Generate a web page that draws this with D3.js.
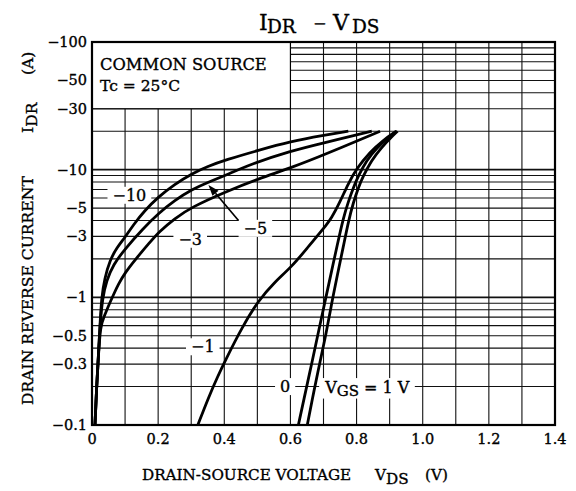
<!DOCTYPE html>
<html><head><meta charset="utf-8">
<script src="https://cdn.jsdelivr.net/npm/d3@7"></script>
<style>
body{margin:0;background:#fff}
svg{display:block}
text{font-family:"DejaVu Serif",serif;fill:#000;stroke:#000;stroke-width:0.35px}
</style>
</head><body>
<svg id="c" width="576" height="491"></svg>
<script>
// ---- data (VDS in V, |IDR| in A; the chart plots negative drain current) ----
const xTicks = [0, 0.2, 0.4, 0.6, 0.8, 1.0, 1.2, 1.4];
const xTickLabels = ["0", "0.2", "0.4", "0.6", "0.8", "1.0", "1.2", "1.4"];
const yTicks = [100, 50, 30, 10, 5, 3, 1, 0.5, 0.3, 0.1];
const yTickLabels = ["−100", "−50", "−30", "−10", "−5", "−3", "−1", "−0.5", "−0.3", "−0.1"];

const vgsM10 = [[0.009,0.1],[0.014,0.2],[0.019,0.33],[0.024,0.6],[0.029,1.0],[0.038,1.4],[0.054,1.95],[0.075,2.45],[0.1,2.95],[0.125,3.7],[0.16,4.8],[0.2,6.1],[0.25,7.7],[0.302,9.3],[0.35,10.6],[0.403,11.9],[0.504,14.2],[0.6,16.6],[0.7,18.6],[0.775,20]];
const vgsM5  = [[0.009,0.1],[0.014,0.2],[0.019,0.33],[0.024,0.6],[0.032,1.0],[0.044,1.35],[0.064,1.8],[0.1,2.4],[0.155,3.47],[0.202,4.57],[0.25,5.75],[0.302,7.0],[0.352,8.0],[0.403,9.0],[0.478,11.0],[0.6,14],[0.7,16.2],[0.846,20]];
const vgsM3  = [[0.009,0.1],[0.014,0.2],[0.019,0.33],[0.025,0.6],[0.038,0.72],[0.05,0.86],[0.065,1.05],[0.08,1.27],[0.1,1.56],[0.131,1.98],[0.175,2.7],[0.202,3.25],[0.25,4.15],[0.302,5.1],[0.403,6.7],[0.504,8.5],[0.6,10.3],[0.7,13.0],[0.871,20]];
const vgsM1  = [[0.32,0.1],[0.353,0.166],[0.38,0.24],[0.403,0.32],[0.454,0.586],[0.504,0.95],[0.55,1.3],[0.605,1.75],[0.649,2.4],[0.70,3.45],[0.725,4.2],[0.75,5.6],[0.775,7.8],[0.80,10.2],[0.84,13.7],[0.88,17],[0.92,20]];
const vgs0   = [[0.624,0.1],[0.648,0.194],[0.664,0.3],[0.686,0.555],[0.703,0.89],[0.722,1.5],[0.742,2.6],[0.76,4.2],[0.775,5.6],[0.79,7.2],[0.805,8.9],[0.83,11.8],[0.861,14.8],[0.901,18.3],[0.921,20]];
const vgsP1  = [[0.651,0.1],[0.672,0.19],[0.688,0.3],[0.708,0.52],[0.724,0.88],[0.742,1.5],[0.760,2.5],[0.776,4.0],[0.79,5.5],[0.805,7.2],[0.82,8.9],[0.845,11.8],[0.874,14.8],[0.908,18.3],[0.924,20]];

const curveLabels = [
  {text:"−10", v:0.113, i:6.3},
  {text:"−3",  v:0.297, i:2.85},
  {text:"−5",  v:0.494, i:3.47},
  {text:"−1",  v:0.335, i:0.41},
  {text:"0",   v:0.584, i:0.2}
];
const arrowFrom = [0.443, 4.0], arrowTo = [0.352, 7.6];

// ---- drawing ----
const svg = d3.select("#c");
const x = d3.scaleLinear().domain([0, 1.4]).range([92, 555]);
const y = d3.scaleLog().domain([0.1, 100]).range([425, 42]);

const g = svg.append("g");

// grid verticals
const xGrid = d3.range(1, 14).map(k => k / 10);
g.selectAll("line.vx").data(xGrid).join("line")
  .attr("x1", d => x(d)).attr("x2", d => x(d))
  .attr("y1", y(100)).attr("y2", y(0.1))
  .attr("stroke", "#111").attr("stroke-width", 1.1);

// grid horizontals
const yGrid = [];
[0.1, 1, 10].forEach(dec => { for (let k = 1; k <= 9; k++) yGrid.push(k * dec); });
g.selectAll("line.hy").data(yGrid.filter(v => v > 0.1 && v < 100)).join("line")
  .attr("x1", x(0)).attr("x2", x(1.4))
  .attr("y1", d => y(d)).attr("y2", d => y(d))
  .attr("stroke", "#111")
  .attr("stroke-width", d => (Math.abs(Math.log10(d) - Math.round(Math.log10(d))) < 1e-6) ? 1.8 : 1.1);

// annotation box
g.append("rect").attr("x", x(0)).attr("y", y(100))
  .attr("width", x(0.6) - x(0)).attr("height", y(30) - y(100))
  .attr("fill", "#fff").attr("stroke", "#000").attr("stroke-width", 1.2);
g.append("text").attr("x", x(0) + 8).attr("y", 70).attr("font-size", 16.3).text("COMMON SOURCE");
g.append("text").attr("x", x(0) + 8).attr("y", 91).attr("font-size", 15.5).text("Tc = 25°C");

// curve labels with white masks
function maskedText(sel, tx, ty, build, size) {
  const t = sel.append("text").attr("x", tx).attr("y", ty)
    .attr("font-size", size).attr("dominant-baseline", "central");
  build(t);
  const b = t.node().getBBox();
  sel.insert("rect", () => t.node())
    .attr("x", b.x - 5).attr("y", b.y + 1).attr("width", b.width + 10).attr("height", b.height - 2)
    .attr("fill", "#fff").attr("stroke", "none");
  return t;
}
curveLabels.forEach(l => {
  maskedText(g, x(l.v), y(l.i), t => t.attr("text-anchor", "middle").text(l.text), 16);
});
maskedText(g, x(0.705), y(0.2), t => {
  t.append("tspan").text("V");
  t.append("tspan").attr("font-size", 15).attr("dy", 4).text("GS");
  t.append("tspan").attr("dy", -4).text(" = 1 V");
}, 16);

// curves
const line = d3.line().x(d => x(d[0])).y(d => y(d[1])).curve(d3.curveBasis);
[vgsM10, vgsM5, vgsM3, vgsM1, vgs0, vgsP1].forEach(s => {
  g.append("path").attr("d", line(s)).attr("fill", "none")
    .attr("stroke", "#000").attr("stroke-width", 2.8).attr("stroke-linejoin", "round");
});

// arrow
{
  const x1 = x(arrowFrom[0]), y1 = y(arrowFrom[1]), x2 = x(arrowTo[0]), y2 = y(arrowTo[1]);
  const ang = Math.atan2(y2 - y1, x2 - x1), L = 11, W = 4;
  const bx = x2 - L * Math.cos(ang), by = y2 - L * Math.sin(ang);
  g.append("line").attr("x1", x1).attr("y1", y1).attr("x2", bx).attr("y2", by)
    .attr("stroke", "#000").attr("stroke-width", 1.7);
  g.append("path").attr("d",
    `M${x2},${y2}L${bx + W * Math.sin(ang)},${by - W * Math.cos(ang)}L${bx - W * Math.sin(ang)},${by + W * Math.cos(ang)}Z`)
    .attr("fill", "#000");
}

// frame
g.append("rect").attr("x", x(0)).attr("y", y(100))
  .attr("width", x(1.4) - x(0)).attr("height", y(0.1) - y(100))
  .attr("fill", "none").attr("stroke", "#000").attr("stroke-width", 2.2);

// tick labels
g.selectAll("text.xt").data(xTicks).join("text")
  .attr("x", d => x(d)).attr("y", 444).attr("text-anchor", "middle")
  .attr("font-size", 14.5).text((d, i) => xTickLabels[i]);
g.selectAll("text.yt").data(yTicks).join("text")
  .attr("x", 87).attr("y", d => y(d)).attr("text-anchor", "end")
  .attr("dominant-baseline", "central").attr("font-size", 14.5)
  .text((d, i) => yTickLabels[i]);

// title
{
  const t = svg.append("text").attr("y", 30).attr("font-size", 22);
  t.append("tspan").attr("x", 259).text("I");
  t.append("tspan").attr("x", 267).attr("font-size", 18.5).attr("dy", 3).text("DR");
  t.append("tspan").attr("x", 313).attr("font-size", 16).attr("dy", -4).text("−");
  t.append("tspan").attr("x", 333).attr("dy", 1).text("V");
  t.append("tspan").attr("x", 352).attr("font-size", 18.5).attr("dy", 3).text("DS");
}

// x axis title
{
  const t = svg.append("text").attr("x", 142).attr("y", 480).attr("font-size", 15.2);
  t.append("tspan").text("DRAIN-SOURCE VOLTAGE");
  t.append("tspan").attr("x", 375).text("V");
  t.append("tspan").attr("dy", 4).text("DS");
  t.append("tspan").attr("x", 425).attr("dy", -4).text("(V)");
}

// y axis title
{
  const t = svg.append("text").attr("transform", "translate(33,405) rotate(-90)").attr("font-size", 15.6);
  t.append("tspan").text("DRAIN REVERSE CURRENT");
  t.append("tspan").attr("x", 272).text("I");
  t.append("tspan").attr("dy", 4).text("DR");
  t.append("tspan").attr("x", 330).attr("dy", -4).text("(A)");
}
</script>
</body></html>
